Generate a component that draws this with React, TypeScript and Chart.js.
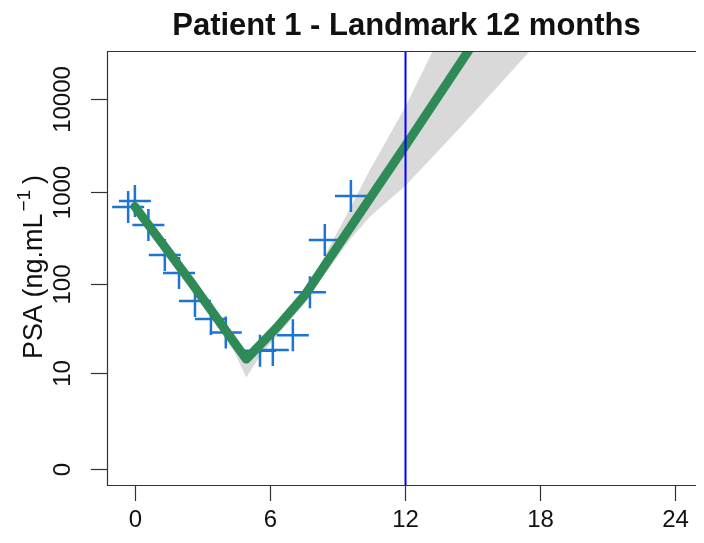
import React, { useEffect, useRef } from "react";
import { Chart, registerables } from "chart.js";

Chart.register(...registerables);

// ---- data (months, PSA in ng/mL) ----
const OBS_MONTHS = [-0.3, 0, 0.6, 1.33, 1.96, 2.67, 3.38, 4.04, 5.56, 6.13, 7.02, 7.78, 8.44, 9.6];
const OBS_PSA = [683, 794, 436, 206, 131, 65, 41, 29, 18, 18.4, 27, 81, 300, 900];

const FIT_MONTHS = [0, 2.5, 4.95, 6.3, 7.55, 10.89, 12, 15];
const FIT_PSA = [691, 104, 14.5, 32.9, 74.9, 1229, 3089, 38900];

const BAND_MONTHS = [0, 2.5, 4.4, 4.95, 5.6, 7.55, 8.44, 9.6, 10.44, 12, 13.24, 15, 17.56];
const BAND_UPPER = [775, 116.5, 26.2, 17.2, 24.1, 82.2, 203, 683, 1717, 8127, 33500, 245500, 4266000];
const BAND_LOWER = [602, 88.1, 17.8, 8.77, 16.4, 60.7, 128, 312, 536, 1147, 2398, 6917, 33400];

const X_TICKS = [0, 6, 12, 18, 24];
const Y_TICKS = [0, 10, 100, 1000, 10000];
const Y_TICK_LABELS = ["0", "10", "100", "1000", "10000"];
const LANDMARK = 12;

const TITLE = "Patient 1 - Landmark 12 months";
const Y_TITLE_MAIN = "PSA (ng.mL";
const Y_TITLE_SUP = "\u22121";
const Y_TITLE_END = ")";

const FONT = "'Liberation Sans', Arial, Helvetica, sans-serif";
const VISIBLE_W = 696;
const CANVAS_W = 740;
const CANVAS_H = 527;

const tr = (v: number) => Math.log10(v + 1);

const axesPlugin = {
  id: "rAxes",
  afterDatasetsDraw(chart: any) {
    const { ctx, chartArea, scales } = chart;
    const xs = scales.x;
    const ys = scales.y;
    const { left, top, bottom, right } = chartArea;
    ctx.save();
    // landmark line
    const lx = Math.round(xs.getPixelForValue(LANDMARK)) + 0.5;
    ctx.strokeStyle = "#0000ff";
    ctx.lineWidth = 2;
    ctx.beginPath();
    ctx.moveTo(lx, top);
    ctx.lineTo(lx, bottom);
    ctx.stroke();

    // box (its right side lies outside the visible picture)
    ctx.strokeStyle = "#333333";
    ctx.lineWidth = 1.2;
    ctx.beginPath();
    ctx.moveTo(left + 0.5, top + 0.5);
    ctx.lineTo(right, top + 0.5);
    ctx.stroke();
    ctx.beginPath();
    ctx.moveTo(left + 0.5, top);
    ctx.lineTo(left + 0.5, bottom + 1);
    ctx.stroke();
    ctx.beginPath();
    ctx.moveTo(left + 0.5, bottom + 0.5);
    ctx.lineTo(right, bottom + 0.5);
    ctx.stroke();

    ctx.fillStyle = "#111111";
    ctx.font = `24px ${FONT}`;
    // y ticks
    Y_TICKS.forEach((v, i) => {
      const y = Math.round(ys.getPixelForValue(tr(v))) + 0.5;
      ctx.beginPath();
      ctx.moveTo(left - 16, y);
      ctx.lineTo(left, y);
      ctx.stroke();
      ctx.save();
      ctx.translate(left - 44, y);
      ctx.rotate(-Math.PI / 2);
      ctx.textAlign = "center";
      ctx.textBaseline = "middle";
      ctx.fillText(Y_TICK_LABELS[i], 0, 0);
      ctx.restore();
    });
    // x ticks
    X_TICKS.forEach((v) => {
      const x = Math.round(xs.getPixelForValue(v)) + 0.5;
      ctx.beginPath();
      ctx.moveTo(x, bottom);
      ctx.lineTo(x, bottom + 16);
      ctx.stroke();
      ctx.textAlign = "center";
      ctx.textBaseline = "middle";
      ctx.fillText(String(v), x, bottom + 35);
    });

    // title
    ctx.font = `bold 31px ${FONT}`;
    ctx.textAlign = "center";
    ctx.textBaseline = "middle";
    ctx.fillText(TITLE, (left + VISIBLE_W) / 2 + 1, 18);

    // y title with superscript
    ctx.save();
    ctx.translate(27, (top + bottom) / 2 - 1);
    ctx.rotate(-Math.PI / 2);
    ctx.textAlign = "left";
    ctx.textBaseline = "middle";
    const fMain = `27px ${FONT}`;
    const fSup = `19px ${FONT}`;
    ctx.font = fMain;
    const w1 = ctx.measureText(Y_TITLE_MAIN).width;
    const w3 = ctx.measureText(Y_TITLE_END).width;
    ctx.font = fSup;
    const w2 = ctx.measureText(Y_TITLE_SUP).width;
    const gap = 4;
    let x0 = -(w1 + w2 + w3 + 2 * gap) / 2;
    ctx.font = fMain;
    ctx.fillText(Y_TITLE_MAIN, x0, 0);
    x0 += w1 + gap - 2;
    ctx.font = fSup;
    ctx.fillText(Y_TITLE_SUP, x0, -10);
    x0 += w2 + gap + 2;
    ctx.font = fMain;
    ctx.fillText(Y_TITLE_END, x0, 0);
    ctx.restore();

    ctx.restore();
  },
};

export default function App() {
  const ref = useRef<HTMLCanvasElement | null>(null);
  useEffect(() => {
    if (!ref.current) return;
    const chart = new Chart(ref.current, {
      type: "line",
      data: {
        datasets: [
          {
            label: "lower",
            data: BAND_MONTHS.map((m, i) => ({ x: m, y: tr(BAND_LOWER[i]) })),
            borderWidth: 0,
            pointRadius: 0,
            fill: false,
            order: 5,
            clip: 0,
          } as any,
          {
            label: "upper",
            data: BAND_MONTHS.map((m, i) => ({ x: m, y: tr(BAND_UPPER[i]) })),
            borderWidth: 0,
            pointRadius: 0,
            fill: "-1",
            backgroundColor: "#d9d9d9",
            order: 4,
            clip: 0,
          } as any,
          {
            label: "observed",
            data: OBS_MONTHS.map((m, i) => ({ x: m, y: tr(OBS_PSA[i]) })),
            showLine: false,
            pointStyle: "cross",
            pointRadius: 16,
            pointBorderWidth: 2.5,
            borderColor: "#1C74D4",
            pointBorderColor: "#1C74D4",
            order: 2,
            clip: 0,
          } as any,
          {
            label: "fit",
            data: FIT_MONTHS.map((m, i) => ({ x: m, y: tr(FIT_PSA[i]) })),
            borderColor: "#2E8B57",
            borderWidth: 9,
            borderCapStyle: "round",
            borderJoinStyle: "round",
            pointRadius: 0,
            fill: false,
            order: 1,
            clip: 0,
          } as any,
        ],
      },
      options: {
        responsive: false,
        animation: false,
        events: [],
        layout: { autoPadding: false, padding: { left: 99, top: 43, right: 0, bottom: 50 } },
        scales: {
          x: { type: "linear", min: -1.24, max: -1.24 + (CANVAS_W - 99) / 22.5, display: false },
          y: { type: "linear", min: -0.173, max: 4.524, display: false },
        },
        plugins: {
          legend: { display: false },
          tooltip: { enabled: false },
          title: { display: false },
        },
      },
      plugins: [axesPlugin],
    });
    return () => chart.destroy();
  }, []);
  return (
    <div style={{ width: VISIBLE_W, height: CANVAS_H, overflow: "hidden" }}>
      <canvas
        ref={ref}
        width={CANVAS_W}
        height={CANVAS_H}
        style={{ display: "block", width: CANVAS_W, height: CANVAS_H }}
      />
    </div>
  );
}
